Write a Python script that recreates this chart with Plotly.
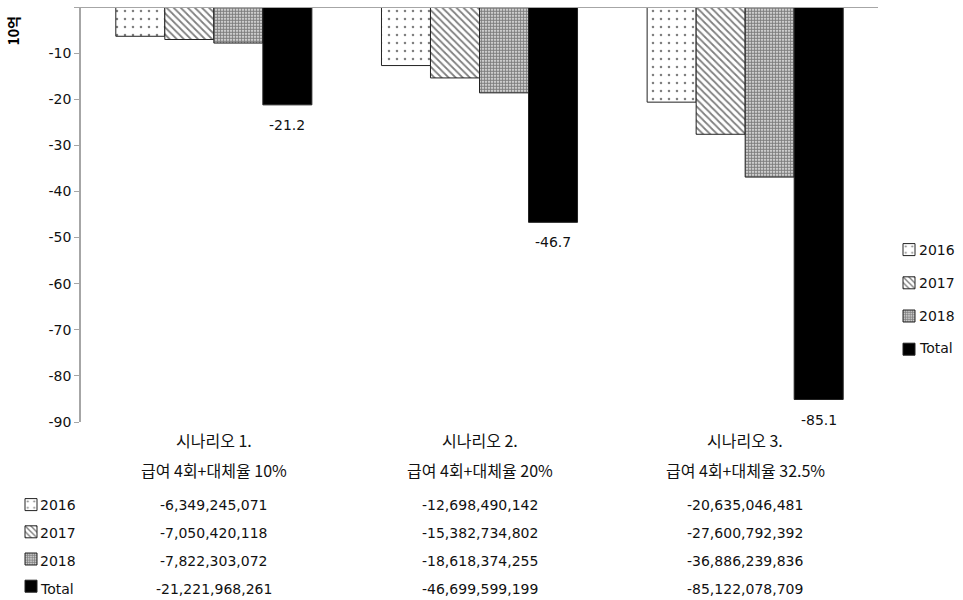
import plotly.graph_objects as go

# Scenario labels (two lines each)
scenario_titles = ["시나리오 1.", "시나리오 2.", "시나리오 3."]
scenario_details = ["급여 4회+대체율 10%", "급여 4회+대체율 20%", "급여 4회+대체율 32.5%"]
categories = ["S1", "S2", "S3"]

# Yearly and cumulative amounts (KRW)
series_names = ["2016", "2017", "2018", "Total"]
v2016 = [-6349245071, -12698490142, -20635046481]
v2017 = [-7050420118, -15382734802, -27600792392]
v2018 = [-7822303072, -18618374255, -36886239836]
vtotal = [-21221968261, -46699599199, -85122078709]
series_values = [v2016, v2017, v2018, vtotal]

y_ticks = [0, -10, -20, -30, -40, -50, -60, -70, -80, -90]
y_ticktext = ["-"] + [str(t) for t in y_ticks[1:]]

W, H = 963, 600
ML, MR, MT, MB = 81, 85, 7, 178
BARGAP = 0.262
plot_w = W - ML - MR
plot_h = H - MT - MB
bar_px = plot_w / len(categories) * (1 - BARGAP) / len(series_names)


def px_x(px):
    return (px - ML) / plot_w


def px_y(py):
    return (H - MB - py) / plot_h


FONT = "DejaVu Sans, Noto Sans CJK KR, sans-serif"
KFONT = "Noto Sans CJK KR, DejaVu Sans, sans-serif"

patterns = [
    dict(shape=".", size=8, solidity=0.08, fgcolor="#000", bgcolor="#fff"),
    dict(shape="\\", size=5, solidity=0.35, fgcolor="#000", bgcolor="#fff"),
    dict(shape=".", size=3, solidity=0.7, fgcolor="#000", bgcolor="#fff"),
    dict(shape="", fgcolor="#000", bgcolor="#000"),
]
colors = ["#fff", "#fff", "#fff", "#000"]

fig = go.Figure()
for name, vals, pat, col in zip(series_names, series_values, patterns, colors):
    fig.add_trace(go.Bar(
        x=categories, y=[v / 1e9 for v in vals], name=name, showlegend=False,
        marker=dict(color=col, pattern=pat, line=dict(color="#222", width=1)),
        hovertemplate="%{y:.1f}<extra>" + name + "</extra>",
    ))

# legend swatches (right side key and data-table row keys), on a hidden axis pair
for lg in ["legend", "legend2"]:
    for name, pat, col in zip(series_names, patterns, colors):
        fig.add_trace(go.Bar(
            x=[None], y=[None], name="", legendgroup=lg + name, legend=lg,
            xaxis="x2", yaxis="y2", showlegend=True,
            marker=dict(color=col, pattern=pat, line=dict(color="#222", width=1)),
        ))

ann = []
# Total value labels below the total bars
for c, v in zip(categories, vtotal):
    ann.append(dict(x=c, y=v / 1e9, xref="x", yref="y", text=f"{v / 1e9:.1f}",
                    showarrow=False, xshift=1.5 * bar_px, yshift=-20,
                    font=dict(family=FONT, size=14, color="#111")))
# Category labels
for c, t, d in zip(categories, scenario_titles, scenario_details):
    ann.append(dict(x=c, y=0, xref="x", yref="paper", text=t, showarrow=False,
                    yshift=-18, yanchor="middle", font=dict(family=KFONT, size=16, color="#111")))
    ann.append(dict(x=c, y=0, xref="x", yref="paper", text=d, showarrow=False,
                    yshift=-48, yanchor="middle", font=dict(family=KFONT, size=16, color="#111")))
# Data table values
row_y = [505, 533, 561, 589]
for vals, ry in zip(series_values, row_y):
    for c, v in zip(categories, vals):
        ann.append(dict(x=c, y=px_y(ry), xref="x", yref="paper", text=f"{v:,}", showarrow=False,
                        yanchor="middle", font=dict(family=FONT, size=14, color="#111")))
# Key labels: data-table rows and right-side legend
legend_y = [250, 283, 316, 348]
for name, ry, ly in zip(series_names, row_y, legend_y):
    ann.append(dict(x=px_x(38), y=px_y(ry), xref="paper", yref="paper", text=name,
                    showarrow=False, xanchor="left", yanchor="middle",
                    font=dict(family=FONT, size=14, color="#111")))
    ann.append(dict(x=px_x(917), y=px_y(ly), xref="paper", yref="paper", text=name,
                    showarrow=False, xanchor="left", yanchor="middle",
                    font=dict(family=FONT, size=14, color="#111")))
# Unit title
ann.append(dict(x=0, y=1, xref="paper", yref="paper", text="<b>10억</b>", textangle=-90,
                showarrow=False, xshift=-69, yshift=-8, xanchor="center", yanchor="top",
                font=dict(family=KFONT, size=14, color="#000")))

fig.update_layout(
    width=W, height=H, margin=dict(l=ML, r=MR, t=MT, b=MB, autoexpand=False),
    paper_bgcolor="#fff", plot_bgcolor="#fff",
    barmode="group", bargap=BARGAP, bargroupgap=0,
    font=dict(family=FONT, size=14, color="#111"),
    annotations=ann,
    showlegend=True,
    legend=dict(xref="container", yref="container", x=889 / W, y=1 - 234 / H,
                xanchor="left", yanchor="top", tracegroupgap=12,
                font=dict(family=FONT, size=14, color="#111"), itemwidth=30,
                bgcolor="rgba(0,0,0,0)", itemclick=False, itemdoubleclick=False),
    legend2=dict(xref="container", yref="container", x=11 / W, y=1 - 489 / H,
                 xanchor="left", yanchor="top", tracegroupgap=6,
                 font=dict(family=FONT, size=14, color="#111"), itemwidth=30,
                 bgcolor="rgba(0,0,0,0)", itemclick=False, itemdoubleclick=False),
    xaxis=dict(showticklabels=False, showline=False, showgrid=False, ticks="",
               range=[-0.5, 2.5]),
    yaxis=dict(range=[-90, 0], tickvals=y_ticks, ticktext=y_ticktext, showgrid=False,
               zeroline=False, showline=True, linecolor="#a6a6a6", linewidth=1.5,
               ticks="outside", ticklen=5, tickcolor="#a6a6a6",
               tickfont=dict(family=FONT, size=14, color="#111")),
    xaxis2=dict(visible=False, overlaying="x", range=[0, 1]),
    yaxis2=dict(visible=False, overlaying="y", range=[0, 1]),
    shapes=[dict(type="line", xref="paper", yref="y", x0=0, x1=1, y0=0, y1=0,
                 line=dict(color="#a6a6a6", width=2), layer="above")],
)

fig.write_html("out.html")
